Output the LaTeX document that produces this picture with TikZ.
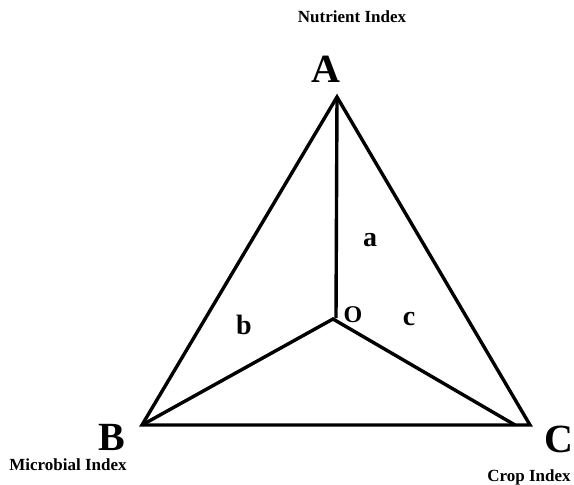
\documentclass[tikz,border=0pt]{standalone}
\usepackage{fontspec}
\setmainfont{Liberation Serif}
\begin{document}
\begin{tikzpicture}[x=1pt,y=-1pt,
  edge/.style={line width=3.4pt,line join=miter,line cap=butt},
  vlabel/.style={font=\fontsize{40}{40}\selectfont\bfseries,inner sep=0pt},
  ilabel/.style={font=\fontsize{17}{17}\selectfont\bfseries,inner sep=0pt},
  rlabel/.style={font=\fontsize{28}{28}\selectfont\bfseries,inner sep=0pt},
  olabel/.style={font=\fontsize{24}{24}\selectfont\bfseries,inner sep=0pt}]
\useasboundingbox (0,0) rectangle (574,485);
\coordinate (A) at (337,97);
\coordinate (B) at (142,425);
\coordinate (C) at (530,425);
\coordinate (O) at (333,319);
\coordinate (Afoot) at (336,318);
\coordinate (Cfoot) at (515,425);
\draw[edge] (A) -- (B) -- (C) -- cycle;
\draw[edge] (A) -- (Afoot);
\draw[edge] (B) -- (O) -- (Cfoot);
\node[vlabel] (lA) at (326,69) {A};
\node[vlabel] (lB) at (112,437) {B};
\node[vlabel] (lC) at (559,439) {C};
\node[ilabel] (nA) at (352,17) {Nutrient Index};
\node[ilabel] (nB) at (68,465) {Microbial Index};
\node[ilabel] (nC) at (529,477) {Crop Index};
\node[rlabel] (la) at (370,240) {a};
\node[rlabel] (lb) at (244,325) {b};
\node[rlabel] (lc) at (409,319) {c};
\node[olabel] (lO) at (353,315) {O};
\end{tikzpicture}
\end{document}
